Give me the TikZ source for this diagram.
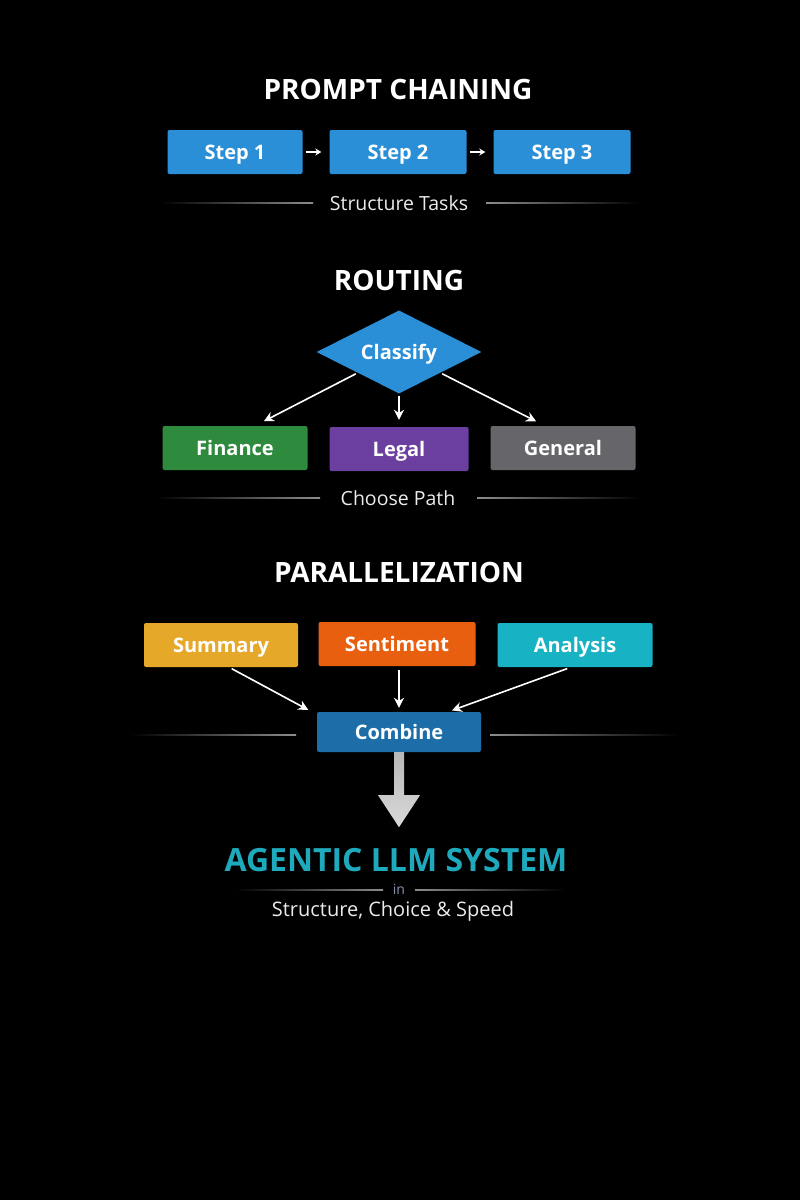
\documentclass[tikz,border=0pt]{standalone}
\usepackage{fontspec}
\setmainfont{Open Sans}
\usetikzlibrary{positioning,shapes.geometric,arrows.meta,calc}

\begin{document}
\begin{tikzpicture}[x=1pt,y=-1pt,
    box/.style={rounded corners=2pt,minimum width=#1,minimum height=44pt,inner sep=0,text height=16pt,text depth=2pt,text=white,font=\fontsize{20}{24}\selectfont\bfseries},
    box/.default=140,
    heading/.style={text=white,font=\fontsize{28}{32}\selectfont\bfseries},
    caption/.style={text=white!92!black,font=\fontsize{19.5}{23}\selectfont},
    flow/.style={draw=white,line width=1.6pt,-{Stealth[length=10pt,width=10pt]}},
    link/.style={draw=white,line width=1.6pt,-{Stealth[length=6pt,width=7pt]},shorten <=3pt,shorten >=8pt},
    ruleleft/.style={left color=black,right color=white!55!black},
    ruleright/.style={left color=white!55!black,right color=black}]
    \definecolor{stepblue}{RGB}{42,143,214}
    \definecolor{finance}{RGB}{46,139,62}
    \definecolor{legal}{RGB}{107,63,160}
    \definecolor{general}{RGB}{102,102,106}
    \definecolor{summary}{RGB}{229,168,41}
    \definecolor{sentiment}{RGB}{232,96,15}
    \definecolor{analysis}{RGB}{23,178,195}
    \definecolor{combine}{RGB}{29,110,168}
    \definecolor{teal}{RGB}{31,169,189}
    \definecolor{dim}{RGB}{138,143,168}
    \fill[black] (0,0) rectangle (800,1200);

    \node[heading] (chaintitle) at (398,89) {PROMPT CHAINING};
    \node[box=135,fill=stepblue] (step1) at (235,152) {Step 1};
    \node[box=137,fill=stepblue] (step2) at (398,152) {Step 2};
    \node[box=137,fill=stepblue] (step3) at (562,152) {Step 3};
    \draw[link] (step1) -- (step2);
    \draw[link] (step2) -- (step3);
    \node[caption] (tasks) at (399,203) {Structure Tasks};
    \shade[ruleleft] (160,202.4) rectangle (313,203.6);
    \shade[ruleright] (486,202.4) rectangle (640,203.6);

    \node[heading] (routetitle) at (399,280) {ROUTING};
    \node[diamond,aspect=2,fill=stepblue,minimum width=165pt,minimum height=83pt,inner sep=0,text height=16pt,text depth=2pt,text=white,font=\fontsize{20}{24}\selectfont\bfseries] (classify) at (399,352) {Classify};
    \node[box=145,fill=finance] (finance) at (235,448) {Finance};
    \node[box=139,fill=legal] (legal) at (399,449) {Legal};
    \node[box=145,fill=general] (general) at (563,448) {General};
    \draw[flow,shorten <=2pt,shorten >=10pt] (classify.south west) -- ($(finance.north)+(20,0)$);
    \draw[flow,shorten <=2pt,shorten >=7pt] (classify.south) -- (legal.north);
    \draw[flow,shorten <=2pt,shorten >=10pt] (classify.south east) -- ($(general.north)+(-18,0)$);
    \node[caption] (path) at (398,498) {Choose Path};
    \shade[ruleleft] (155,497.4) rectangle (320,498.6);
    \shade[ruleright] (477,497.4) rectangle (640,498.6);

    \node[heading] (paratitle) at (399,572) {PARALLELIZATION};
    \node[box=154,fill=summary] (summary) at (221,645) {Summary};
    \node[box=157,fill=sentiment] (sentiment) at (397,644) {Sentiment};
    \node[box=155,fill=analysis] (analysis) at (575,645) {Analysis};
    \node[box=164,minimum height=40pt,fill=combine] (combine) at (399,732) {Combine};
    \draw[flow,shorten <=3pt,shorten >=4pt] ($(summary.south)+(8,0)$) -- ($(combine.north west)+(-5,0)$);
    \draw[flow,shorten <=4pt,shorten >=4pt] ($(sentiment.south)+(2,0)$) -- (combine.north);
    \draw[flow,shorten <=4pt,shorten >=4pt] ($(analysis.south)+(-4,0)$) -- ($(combine.north east)+(-33,0)$);
    \shade[ruleleft] (130,734.4) rectangle (296,735.6);
    \shade[ruleright] (490,734.4) rectangle (680,735.6);
    \shade[top color=white!72!black,bottom color=white!85!black] ([xshift=-5pt]combine.south) -- ++(0,43) -- ++(-16,0) -- ++(21,32) -- ++(21,-32) -- ++(-16,0) -- ++(0,-43) -- cycle;

    \node[text=teal,font=\fontsize{32}{36}\selectfont\bfseries] (system) at (396,860) {AGENTIC LLM SYSTEM};
    \node[text=dim,font=\fontsize{14}{16}\selectfont] (in) at (399,889) {in};
    \shade[ruleleft] (235,889.5) rectangle (383,890.5);
    \shade[ruleright] (415,889.5) rectangle (565,890.5);
    \node[caption,font=\fontsize{20}{24}\selectfont] (speed) at (393,911) {Structure, Choice \& Speed};
\end{tikzpicture}
\end{document}
